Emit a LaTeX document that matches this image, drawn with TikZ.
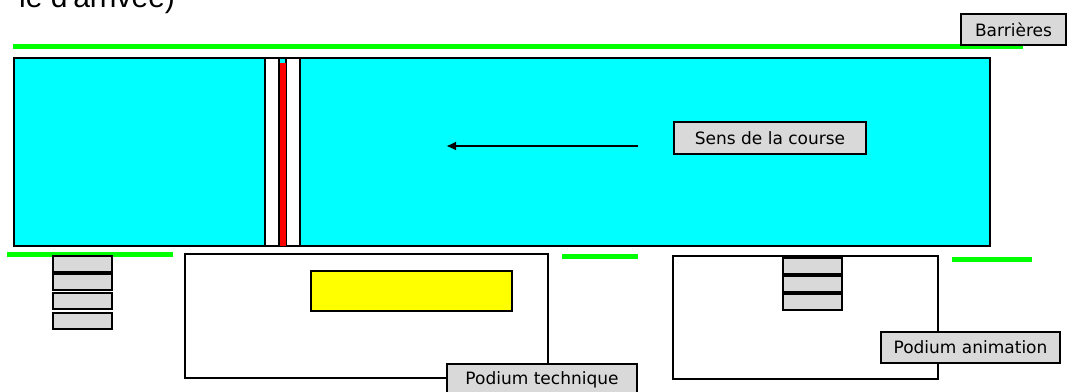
\documentclass[tikz,border=0pt]{standalone}
\usepackage{fontspec}
\setmainfont{DejaVu Sans}
\newfontfamily\headfont{Liberation Sans}
\usetikzlibrary{arrows.meta}
\definecolor{pistecyan}{RGB}{0,255,255}
\definecolor{barrgreen}{RGB}{0,255,0}
\definecolor{linered}{RGB}{255,0,0}
\definecolor{podyellow}{RGB}{255,255,0}
\definecolor{tagfill}{RGB}{217,217,217}

\begin{document}
\begin{tikzpicture}[x=1pt,y=-1pt,line width=2pt]

        \edef\sizecrate{59pt}
        \tikzstyle{zone}=[draw,rectangle,inner sep=0pt]
        \tikzstyle{tag}=[draw,fill=tagfill,inner sep=0pt,line width=1.5pt,font=\fontsize{17}{20}\selectfont]
        \tikzstyle{crate}=[draw,fill=tagfill,minimum width=\sizecrate,minimum height=16pt,inner sep=0pt]
        \tikzstyle{barrier}=[draw=barrgreen,line width=5pt]

        \useasboundingbox (0,0) rectangle (1067,391);
        \clip (0,0) rectangle (1067,391);

        \node[anchor=base east,inner sep=0pt,font=\headfont\fontsize{30}{36}\selectfont] (head) at (176,7) {le d'arrivée)};

        % barrieres
        \coordinate (b1w) at (13,46);   \coordinate (b1e) at (1023,46);
        \coordinate (b2w) at (7,254);   \coordinate (b2e) at (173,254);
        \coordinate (b3w) at (562,256); \coordinate (b3e) at (638,256);
        \coordinate (b4w) at (952,259); \coordinate (b4e) at (1032,259);
        \draw[barrier] (b1w) -- (b1e);
        \draw[barrier] (b2w) -- (b2e);
        \draw[barrier] (b3w) -- (b3e);
        \draw[barrier] (b4w) -- (b4e);
        \node[tag,minimum width=105pt,minimum height=31pt] (barr) at (1013.5,29.5) {Barrières};

        % piste + ligne d'arrivee
        \node[zone,fill=pistecyan,minimum width=976pt,minimum height=188pt] (piste) at (502,152) {};
        \node[zone,fill=white,minimum width=14pt,minimum height=188pt] (gatel) at (272,152) {};
        \node[zone,fill=white,minimum width=14pt,minimum height=188pt] (gater) at (293,152) {};
        \node[zone,draw=none,fill=linered,minimum width=6pt,minimum height=183pt] (finish) at (282.5,154.5) {};

        % sens de la course
        \node[tag,minimum width=192pt,minimum height=32pt] (sens) at (770,138) {Sens de la course};
        \coordinate (from) at (638,146);
        \coordinate (to) at (446,146);
        \draw[-{Latex[length=10pt,width=9pt]}] (from) -- (to);

        % caisses
        \foreach \y [count=\i] in {264,281.5,300.5,320.5}
            \node[crate] (cl\i) at (82.5,\y) {};

        % podium technique
        \node[zone,fill=white,minimum width=363pt,minimum height=124pt] (podtech) at (366.5,316) {};
        \node[zone,fill=podyellow,minimum width=201pt,minimum height=40pt] (screen) at (411.5,291) {};
        \node[tag,minimum width=190pt,minimum height=32pt] (podtechtag) at (542,380) {Podium technique};

        % podium animation
        \node[zone,fill=white,minimum width=265pt,minimum height=123pt] (podanim) at (805.5,317.5) {};
        \foreach \y [count=\i] in {266,284,301.5}
            \node[crate] (cr\i) at (812.5,\y) {};
        \node[tag,minimum width=179pt,minimum height=31pt] (podanimtag) at (970.5,347.5) {Podium animation};

\end{tikzpicture}
\end{document}
